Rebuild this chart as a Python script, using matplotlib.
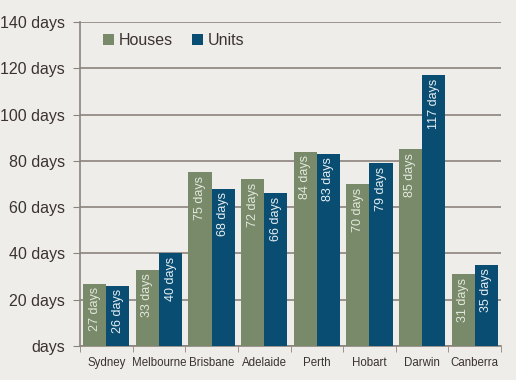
import numpy as np
import matplotlib.pyplot as plt

cities = ["Sydney", "Melbourne", "Brisbane", "Adelaide", "Perth", "Hobart", "Darwin", "Canberra"]
houses = [27, 33, 75, 72, 84, 70, 85, 31]
units = [26, 40, 68, 66, 83, 79, 117, 35]
y_ticks = [0, 20, 40, 60, 80, 100, 120, 140]
y_labels = ["days", "20 days", "40 days", "60 days", "80 days", "100 days", "120 days", "140 days"]

bg = "#efedea"
grid_col = "#8c837c"
house_col = "#788a6a"
unit_col = "#0a4d72"

plt.rcParams["font.family"] = "Liberation Sans"

fig = plt.figure(figsize=(5.16, 3.8), dpi=100, facecolor=bg)
ax = fig.add_axes([80 / 516, 1 - 346 / 380, 421 / 516, 324 / 380], facecolor=bg)

x = np.arange(len(cities))
w = 0.44
b1 = ax.bar(x - w / 2, houses, w, color=house_col, label="Houses", zorder=3)
b2 = ax.bar(x + w / 2, units, w, color=unit_col, label="Units", zorder=3)

for bars, vals, tc in [(b1, houses, "#e2e8da"), (b2, units, "#e6eef3")]:
    for r, v in zip(bars, vals):
        ax.text(r.get_x() + r.get_width() / 2, v - 1.5, f"{v} days", rotation=90,
                ha="center", va="top", fontsize=9, color=tc, zorder=4)

ax.set_xlim(-0.5, len(cities) - 0.5)
ax.set_ylim(0, 140)
ax.set_yticks(y_ticks)
ax.set_yticklabels(y_labels, fontsize=11.5, color="#3a3330")
ax.yaxis.grid(True, color=grid_col, linewidth=1.2, zorder=0)
ax.tick_params(axis="y", length=5, color=grid_col, pad=6)

ax.set_xticks(x)
ax.set_xticklabels(cities, fontsize=8.3, color="#3a3330")
ax.tick_params(axis="x", length=0, pad=8)
ax.set_xticks(np.arange(-0.5, len(cities)), minor=True)
ax.tick_params(axis="x", which="minor", length=4, color=grid_col)

for s in ["top", "right"]:
    ax.spines[s].set_visible(False)
for s in ["left", "bottom"]:
    ax.spines[s].set_color(grid_col)
    ax.spines[s].set_linewidth(1.2)

ax.legend(loc="upper left", bbox_to_anchor=(0.02, 1.01), ncol=2, frameon=False,
          fontsize=11.5, handlelength=0.7, handleheight=0.7, handletextpad=0.3,
          columnspacing=1.2, labelcolor="#3a3330")

fig.savefig("out.png", dpi=100, facecolor=bg)
